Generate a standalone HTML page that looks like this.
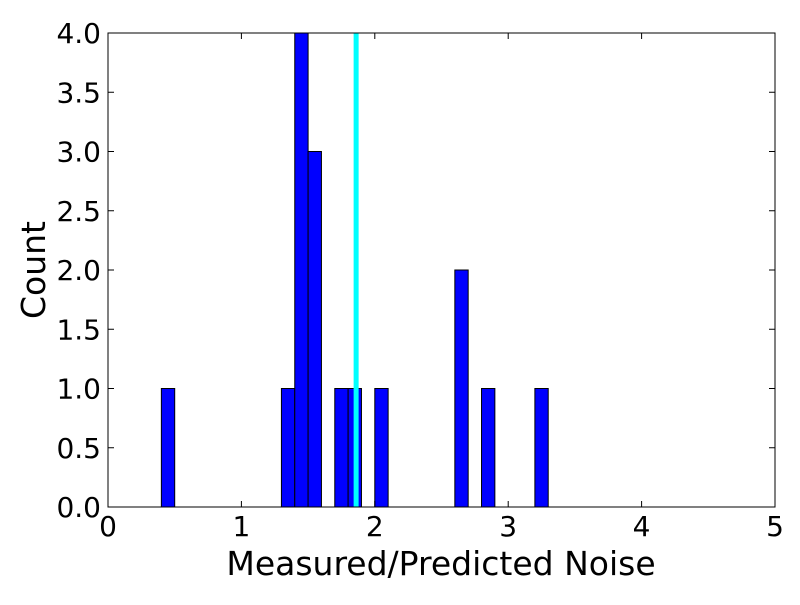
<!DOCTYPE html>
<html><head><meta charset="utf-8"><style>
body{margin:0;background:#fff}
text{font-family:"DejaVu Sans","Liberation Sans",sans-serif;fill:#000}
</style></head><body>
<svg id="chart" width="800" height="600" xmlns="http://www.w3.org/2000/svg">
<rect width="800" height="600" fill="#fff"/>
<g id="bars"></g>
<g id="axes"></g>
</svg>
<script>
const binStarts=[0.4,1.3,1.4,1.5,1.7,1.8,2.0,2.6,2.8,3.2];
const counts=[1,1,4,3,1,1,1,2,1,1];
const binWidth=0.1;
const meanValue=1.86;
const xTicks=[0,1,2,3,4,5];
const yTicks=[0,0.5,1,1.5,2,2.5,3,3.5,4];
const L=108,R=775,T=33,B=507;
const xs=v=>L+(v-0)/5*(R-L);
const ys=v=>B-(v/4)*(B-T);
const NS="http://www.w3.org/2000/svg";
function mk(tag,attrs,parent){const e=document.createElementNS(NS,tag);for(const k in attrs)e.setAttribute(k,attrs[k]);parent.appendChild(e);return e;}
const bars=document.getElementById('bars'),axes=document.getElementById('axes');
binStarts.forEach((s,i)=>{
 const r=mk('rect',{x:xs(s),y:ys(counts[i]),width:xs(s+binWidth)-xs(s),height:ys(0)-ys(counts[i]),fill:'#0000ff',stroke:'#000','stroke-width':1},bars);
 
 
});
const ml=mk('line',{x1:xs(meanValue),x2:xs(meanValue),y1:T,y2:B,stroke:'#00ffff','stroke-width':5},bars);


const frame=mk('rect',{x:L,y:T,width:R-L,height:B-T,fill:'none',stroke:'#000','stroke-width':1},axes);


xTicks.forEach(t=>{
 const x=xs(t);
 mk('line',{x1:x,x2:x,y1:B,y2:B-6,stroke:'#000'},axes);
 mk('line',{x1:x,x2:x,y1:T,y2:T+6,stroke:'#000'},axes);
 const tx=mk('text',{x:x,y:B+29,'text-anchor':'middle','font-size':28},axes);
 tx.textContent=t;
 
 
});
yTicks.forEach(t=>{
 const y=ys(t);
 mk('line',{x1:L,x2:L+6,y1:y,y2:y,stroke:'#000'},axes);
 mk('line',{x1:R,x2:R-6,y1:y,y2:y,stroke:'#000'},axes);
 const tx=mk('text',{x:L-7,y:y+10,'text-anchor':'end','font-size':28},axes);
 tx.textContent=t.toFixed(1);
 
 
});
const xt=mk('text',{x:(L+R)/2-0.5,y:575,'text-anchor':'middle','font-size':33},axes);
xt.textContent='Measured/Predicted Noise';


const yt=mk('text',{x:0,y:0,'text-anchor':'middle','font-size':33,transform:'translate(45,270) rotate(-90)'},axes);
yt.textContent='Count';


</script>
</body></html>
